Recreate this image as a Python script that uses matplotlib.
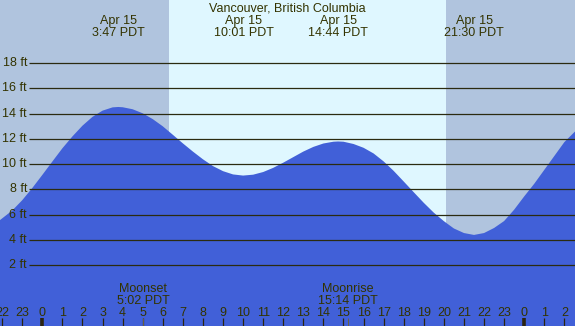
import matplotlib
matplotlib.use("Agg")
import matplotlib.pyplot as plt

# tide heights (ft), hours since midnight Apr 15
hours = [-2.12, -1.5, -1.0, -0.5, 0.0, 0.5, 1.0, 1.5, 2.0, 2.5, 3.0, 3.5, 3.78,
         4.0, 4.5, 5.0, 5.5, 6.0, 6.5, 7.0, 7.5, 8.0, 8.5, 9.0, 9.5, 10.0,
         10.5, 11.0, 11.5, 12.0, 12.5, 13.0, 13.5, 14.0, 14.5, 14.73, 15.0,
         15.5, 16.0, 16.5, 17.0, 17.5, 18.0, 18.5, 19.0, 19.5, 20.0, 20.5,
         21.0, 21.5, 22.0, 22.5, 23.0, 23.5, 24.0, 24.5, 25.0, 25.5, 26.0, 26.55]
heights = [5.56, 6.33, 7.15, 8.11, 9.15, 10.21, 11.26, 12.2, 13.05, 13.75, 14.24, 14.5, 14.53,
           14.51, 14.35, 14.03, 13.57, 13.0, 12.33, 11.65, 11.0, 10.39, 9.85, 9.45, 9.19, 9.1,
           9.17, 9.38, 9.71, 10.12, 10.56, 11.0, 11.37, 11.64, 11.78, 11.8, 11.78,
           11.6, 11.3, 10.85, 10.22, 9.47, 8.63, 7.78, 6.94, 6.16, 5.49, 4.91,
           4.55, 4.4, 4.55, 4.95, 5.5, 6.4, 7.45, 8.45, 9.55, 10.65, 11.75, 12.62]

tide_times = [3.78, 10.02, 14.73, 21.5]
tide_labels = ["Apr 15\n3:47 PDT", "Apr 15\n10:01 PDT", "Apr 15\n14:44 PDT", "Apr 15\n21:30 PDT"]
moon_times = [5.03, 15.23]
moon_labels = ["Moonset\n5:02 PDT", "Moonrise\n15:14 PDT"]
sunrise, sunset = 6.31, 20.1
grid_ft = [2, 4, 6, 8, 10, 12, 14, 16, 18]
hour_ticks = list(range(-2, 27))

xmin, xmax = -2.107, 26.53
ymin, ymax = -2.81, 23.0
txt = "#333300"

plt.rcParams['font.family'] = ['Liberation Sans', 'DejaVu Sans']
fig = plt.figure(figsize=(5.75, 3.26), dpi=100)
ax = fig.add_axes([0, 0, 1, 1])
ax.set_xlim(xmin, xmax)
ax.set_ylim(ymin, ymax)
ax.axis('off')

ax.axvspan(xmin, sunrise, color="#b0c4de", lw=0)
ax.axvspan(sunrise, sunset, color="#dff7ff", lw=0)
ax.axvspan(sunset, xmax, color="#b0c4de", lw=0)

ax.fill_between(hours, ymin - 1, heights, color="#4160d8", lw=0)

ax.hlines(grid_ft, -0.66, xmax, color="#2b2b10", lw=0.9)
for g in grid_ft:
    ax.text(-0.76, g, f"{g} ft", ha="right", va="center", fontsize=9, color=txt)

ax.text(12.2, 22.35, "Vancouver, British Columbia", ha="center", va="center",
        fontsize=9, color=txt)
for t, lab in zip(tide_times, tide_labels):
    ax.text(t, 20.88, lab, ha="center", va="center", fontsize=9, color=txt,
            linespacing=0.97)
for t, lab in zip(moon_times, moon_labels):
    ax.text(t, -0.38, lab, ha="center", va="center", fontsize=9, color=txt,
            linespacing=0.97)

tr = ax.get_xaxis_transform()
for h in hour_ticks:
    ax.text(h, 0.039, str(h % 24), ha="center", va="center", fontsize=9,
            color=txt, transform=tr)
    if h % 24 == 0:
        ax.vlines(h, 0, 0.024, color="#2b2410", lw=2.6, transform=tr)
    else:
        ax.vlines(h, 0, 0.024, color="#2b2410", lw=0.9, transform=tr)
ax.vlines(moon_times, 0, 0.024, color="#6a6040", lw=0.7, transform=tr)

fig.savefig("out.png", dpi=100)
